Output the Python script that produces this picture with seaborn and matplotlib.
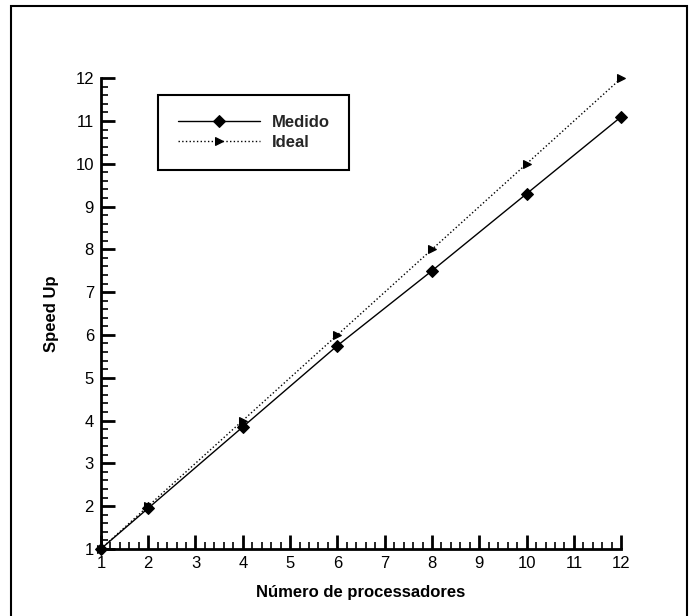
import pandas as pd
import matplotlib.pyplot as plt
import seaborn as sns
from matplotlib.ticker import MultipleLocator, AutoMinorLocator
from matplotlib.patches import Rectangle

processadores = [1, 2, 4, 6, 8, 10, 12]
medido = [1.0, 1.95, 3.85, 5.75, 7.5, 9.3, 11.1]
ideal = [1, 2, 4, 6, 8, 10, 12]

df = pd.DataFrame({'proc': processadores, 'Medido': medido, 'Ideal': ideal})

sns.set_style('ticks')
plt.rcParams['font.family'] = ['Liberation Sans', 'DejaVu Sans']

fig = plt.figure(figsize=(6.91, 6.16), dpi=100)
ax = fig.add_axes([0.146, 0.109, 0.753, 0.764])

sns.lineplot(data=df, x='proc', y='Medido', ax=ax, color='black', linewidth=1,
             marker='D', markersize=6, markeredgecolor='black', label='Medido',
             clip_on=False)
sns.lineplot(data=df, x='proc', y='Ideal', ax=ax, color='black', linewidth=1,
             linestyle=':', marker='>', markersize=5.5, markeredgecolor='black',
             label='Ideal', clip_on=False)

ax.set_xlim(1, 12)
ax.set_ylim(1, 12)
ax.xaxis.set_major_locator(MultipleLocator(1))
ax.yaxis.set_major_locator(MultipleLocator(1))
ax.xaxis.set_minor_locator(AutoMinorLocator(5))
ax.yaxis.set_minor_locator(AutoMinorLocator(5))
ax.tick_params(which='major', direction='in', length=10, width=2, labelsize=12,
               pad=5, colors='black')
ax.tick_params(which='minor', direction='in', length=5, width=1.2, colors='black')

sns.despine(ax=ax)
for s in ['left', 'bottom']:
    ax.spines[s].set_linewidth(2)
    ax.spines[s].set_color('black')

ax.set_xlabel('Número de processadores', fontsize=12, fontweight='bold',
              labelpad=10, color='black')
ax.set_ylabel('Speed Up', fontsize=12, fontweight='bold', labelpad=12,
              color='black')

leg = ax.legend(loc='upper left', bbox_to_anchor=(0.11, 0.964), borderaxespad=0,
                fancybox=False, edgecolor='black', framealpha=1,
                handlelength=4.9, borderpad=1.2, labelspacing=0.3,
                handletextpad=0.7, prop={'weight': 'bold', 'size': 12})
leg.get_frame().set_linewidth(1.5)

fig.patches.append(Rectangle((11 / 691, -0.05), 676 / 691, 1.05 - 6 / 616,
                             transform=fig.transFigure, fill=False,
                             edgecolor='black', linewidth=1.5))

fig.savefig('out.png', dpi=100)
